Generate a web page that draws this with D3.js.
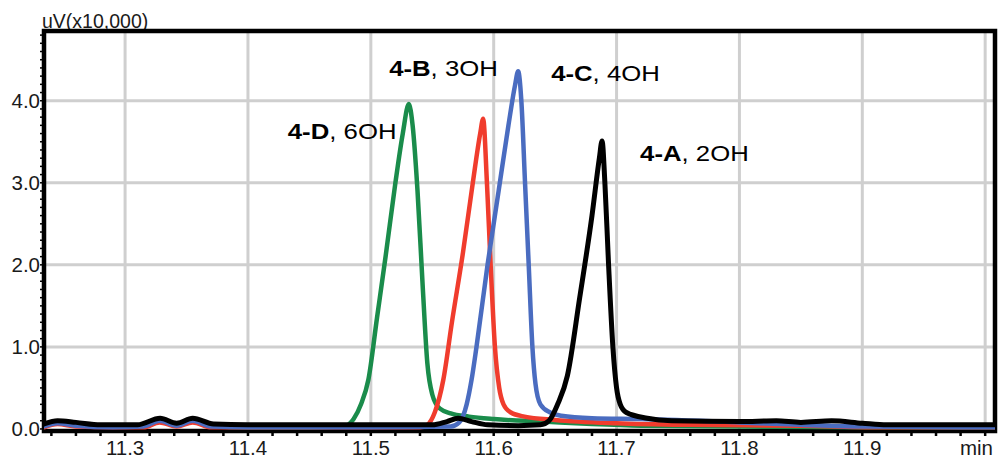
<!DOCTYPE html>
<html>
<head>
<meta charset="utf-8">
<script src="https://cdn.jsdelivr.net/npm/d3@7"></script>
<style>
  html, body { margin: 0; padding: 0; background: #fff; }
  svg { display: block; font-family: "Liberation Sans", Arial, Helvetica, sans-serif; }
</style>
</head>
<body>
<svg id="chart" width="998" height="459"></svg>
<script>
// Retention-time axis ticks (min)
const xTicks = [11.3, 11.4, 11.5, 11.6, 11.7, 11.8, 11.9];
const xTickLabels = ["11.3", "11.4", "11.5", "11.6", "11.7", "11.8", "11.9"];
const xGrid = [11.3, 11.4, 11.5, 11.6, 11.7, 11.8, 11.9, 12.0];
// Signal axis ticks (uV x 10,000)
const yTicks = [0, 1, 2, 3, 4];
const yTickLabels = ["0.0", "1.0", "2.0", "3.0", "4.0"];

// 4-D, 6OH trace
const timeD = [11.234, 11.245, 11.26, 11.29, 11.315, 11.328, 11.342, 11.355, 11.37, 11.40, 11.45, 11.478, 11.486, 11.492, 11.498, 11.505, 11.512, 11.52, 11.526, 11.5309, 11.534, 11.538, 11.542, 11.546, 11.55, 11.556, 11.565, 11.58, 11.60, 11.64, 11.68, 11.72, 11.80, 11.90, 12.008];
const signalD = [0.04, 0.08, 0.05, 0.03, 0.04, 0.11, 0.05, 0.11, 0.04, 0.02, 0.02, 0.03, 0.12, 0.3, 0.6, 1.35, 2.1, 3.0, 3.6, 3.96, 3.7, 2.9, 1.8, 0.8, 0.42, 0.25, 0.19, 0.15, 0.12, 0.09, 0.06, 0.04, 0.03, 0.02, 0.02];

// 4-B, 3OH trace
const timeB = [11.234, 11.245, 11.26, 11.29, 11.315, 11.328, 11.342, 11.355, 11.37, 11.40, 11.50, 11.54, 11.546, 11.552, 11.559, 11.566, 11.575, 11.583, 11.589, 11.5914, 11.5945, 11.5975, 11.601, 11.6045, 11.608, 11.614, 11.625, 11.65, 11.70, 11.76, 11.85, 11.92, 12.008];
const signalB = [0.02, 0.06, 0.03, 0.02, 0.02, 0.08, 0.03, 0.08, 0.02, 0.02, 0.02, 0.02, 0.05, 0.2, 0.6, 1.3, 2.15, 3.0, 3.6, 3.78, 3.0, 2.0, 1.0, 0.5, 0.3, 0.2, 0.15, 0.11, 0.07, 0.05, 0.04, 0.02, 0.02];

// 4-C, 4OH trace
const timeC = [11.234, 11.245, 11.26, 11.29, 11.315, 11.328, 11.342, 11.355, 11.37, 11.40, 11.50, 11.565, 11.572, 11.578, 11.582, 11.586, 11.595, 11.604, 11.612, 11.6175, 11.6199, 11.6225, 11.6255, 11.6285, 11.6315, 11.634, 11.638, 11.646, 11.655, 11.68, 11.72, 11.80, 11.85, 11.90, 12.008];
const signalC = [0.03, 0.07, 0.04, 0.02, 0.03, 0.1, 0.04, 0.1, 0.03, 0.02, 0.02, 0.03, 0.08, 0.3, 0.6, 1.0, 2.0, 2.9, 3.7, 4.2, 4.36, 4.0, 3.0, 2.0, 1.0, 0.55, 0.3, 0.2, 0.16, 0.13, 0.12, 0.08, 0.05, 0.03, 0.02];

// 4-A, 2OH trace
const timeA = [11.234, 11.245, 11.26, 11.28, 11.31, 11.3285, 11.342, 11.355, 11.372, 11.40, 11.50, 11.55, 11.562, 11.571, 11.582, 11.595, 11.62, 11.638, 11.645, 11.652, 11.66, 11.67, 11.68, 11.686, 11.6882, 11.6905, 11.6935, 11.697, 11.70, 11.703, 11.708, 11.725, 11.745, 11.80, 11.83, 11.85, 11.875, 11.90, 11.92, 12.008];
const signalA = [0.06, 0.1, 0.08, 0.05, 0.05, 0.13, 0.07, 0.13, 0.06, 0.05, 0.05, 0.05, 0.09, 0.13, 0.09, 0.05, 0.04, 0.05, 0.1, 0.3, 0.65, 1.6, 2.6, 3.3, 3.51, 3.0, 2.0, 1.0, 0.5, 0.3, 0.2, 0.13, 0.1, 0.09, 0.1, 0.08, 0.1, 0.07, 0.05, 0.05];

const compoundIds = ["4-D", "4-B", "4-C", "4-A"];
const compoundSubs = [", 6OH", ", 3OH", ", 4OH", ", 2OH"];

const series = [
  { id: compoundIds[0], sub: compoundSubs[0], t: timeD, v: signalD, color: "#1a8c4b", width: 4.5, dx: -121, dy: 35 },
  { id: compoundIds[1], sub: compoundSubs[1], t: timeB, v: signalB, color: "#f03c2d", width: 4.5, dx: -94, dy: -43 },
  { id: compoundIds[2], sub: compoundSubs[2], t: timeC, v: signalC, color: "#4a6cc0", width: 4.5, dx: 33, dy: 10 },
  { id: compoundIds[3], sub: compoundSubs[3], t: timeA, v: signalA, color: "#000000", width: 5, dx: 38, dy: 20 }
];

const svg = d3.select("#chart");
const plotLeft = 44, plotRight = 995, plotTop = 31, plotBottom = 431;

const x = d3.scaleLinear().domain([11.234, 12.008]).range([plotLeft, plotRight]);
const y = d3.scaleLinear().domain([-0.025, 4.85]).range([plotBottom, plotTop]);

// grid
const grid = svg.append("g").attr("stroke", "#cfcfcf").attr("stroke-width", 3);
grid.selectAll("line.gx").data(xGrid).join("line")
  .attr("x1", d => x(d)).attr("x2", d => x(d))
  .attr("y1", plotTop).attr("y2", plotBottom);
grid.selectAll("line.gy").data(yTicks.filter(d => d > 0)).join("line")
  .attr("x1", plotLeft).attr("x2", plotRight)
  .attr("y1", d => y(d)).attr("y2", d => y(d));

// axis label
svg.append("text").attr("x", 42).attr("y", 28)
  .attr("font-size", 19.5).attr("fill", "#1a1a1a").text("uV(x10,000)");

// minor ticks
const minorX = d3.range(11.24, 12.001, 0.02);
svg.append("g").attr("stroke", "#000").attr("stroke-width", 2.5)
  .selectAll("line").data(minorX).join("line")
  .attr("x1", d => x(d)).attr("x2", d => x(d))
  .attr("y1", plotBottom).attr("y2", plotBottom + 5);
const minorY = d3.range(0, 4.85, 0.1);
svg.append("g").attr("stroke", "#000").attr("stroke-width", 1.5)
  .selectAll("line").data(minorY).join("line")
  .attr("x1", plotLeft - 4).attr("x2", plotLeft)
  .attr("y1", d => y(d)).attr("y2", d => y(d));

// frame
svg.append("rect").attr("x", plotLeft).attr("y", plotTop)
  .attr("width", plotRight - plotLeft).attr("height", plotBottom - plotTop)
  .attr("fill", "none").attr("stroke", "#000").attr("stroke-width", 4.5);

// tick labels
svg.append("g").selectAll("text").data(xTicks).join("text")
  .attr("x", d => x(d)).attr("y", 455)
  .attr("text-anchor", "middle").attr("font-size", 20.5).attr("fill", "#1a1a1a")
  .text((d, i) => xTickLabels[i]);
svg.append("text").attr("x", 993).attr("y", 455)
  .attr("text-anchor", "end").attr("font-size", 20.5).attr("fill", "#1a1a1a").text("min");
svg.append("g").selectAll("text").data(yTicks).join("text")
  .attr("x", 40).attr("y", d => y(d)).attr("dy", "0.36em")
  .attr("text-anchor", "end").attr("font-size", 20.5).attr("fill", "#1a1a1a")
  .text((d, i) => yTickLabels[i]);

// traces
svg.append("defs").append("clipPath").attr("id", "plot-clip")
  .append("rect").attr("x", plotLeft).attr("y", plotTop)
  .attr("width", plotRight - plotLeft).attr("height", plotBottom - plotTop + 2);

const line = d3.line().curve(d3.curveMonotoneX);
const traces = svg.append("g").attr("clip-path", "url(#plot-clip)");
series.forEach(s => {
  const pts = s.t.map((t, i) => [x(t), y(s.v[i])]);
  traces.append("path")
    .attr("d", line(pts))
    .attr("fill", "none")
    .attr("stroke", s.color)
    .attr("stroke-width", s.width)
    .attr("stroke-linejoin", "round")
    .attr("stroke-linecap", "round");
});

// peak labels, placed relative to each apex
series.forEach(s => {
  const k = d3.maxIndex(s.v);
  const px = x(s.t[k]) + s.dx, py = y(s.v[k]) + s.dy;
  const label = svg.append("text")
    .attr("transform", `translate(${px},${py}) scale(1.17,1)`)
    .attr("font-size", 22).attr("fill", "#000");
  label.append("tspan").attr("font-weight", "bold").text(s.id);
  label.append("tspan").text(s.sub);
});
</script>
</body>
</html>
